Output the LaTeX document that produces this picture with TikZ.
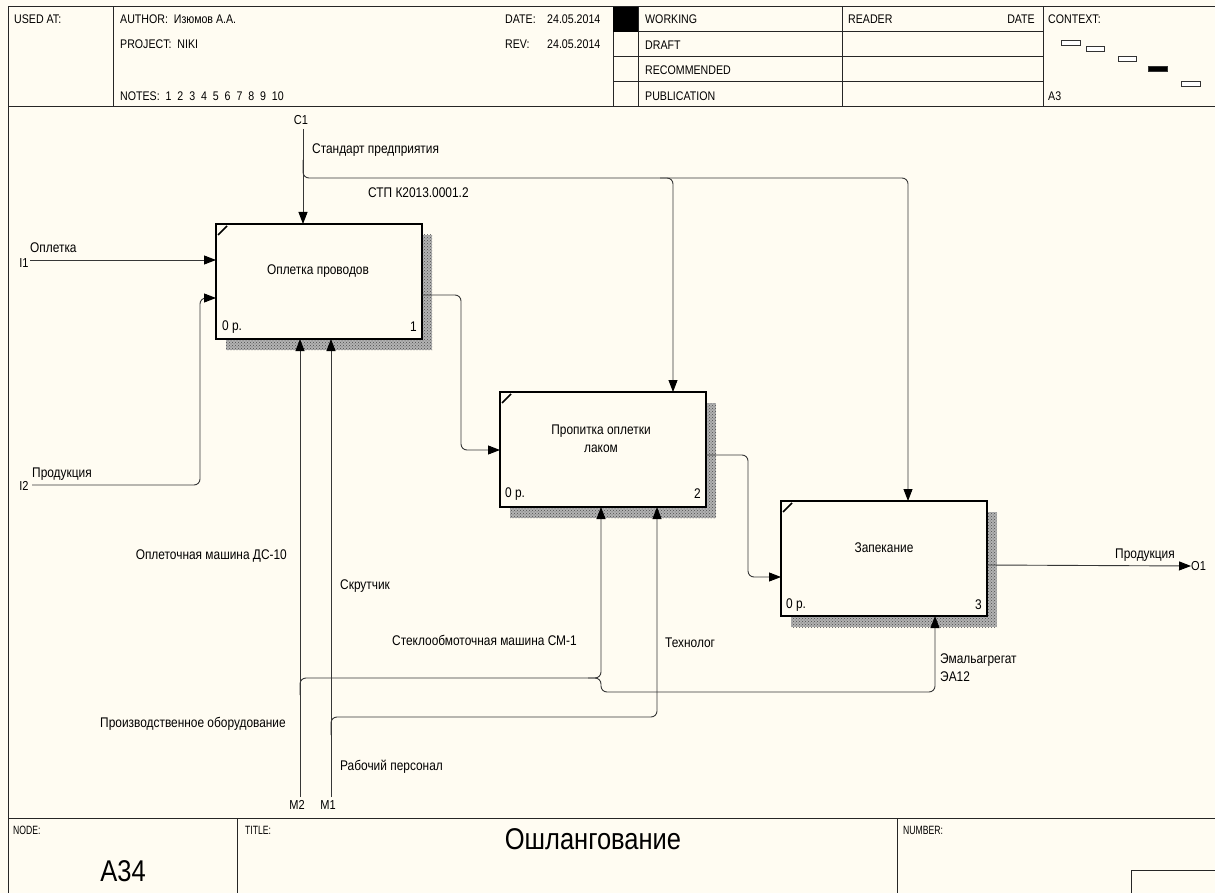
\documentclass[tikz,border=0pt]{standalone}
\usepackage{fontspec}
\setmainfont[FakeStretch=0.85]{Liberation Sans}
\newfontfamily\condfont[FakeStretch=0.72]{Liberation Sans}
\usetikzlibrary{arrows.meta,patterns,calc}
\definecolor{bg}{RGB}{255,252,242}
\definecolor{ln}{RGB}{55,55,55}
\begin{document}
\begin{tikzpicture}[x=1pt,y=-1pt,
  txt/.style={inner sep=0pt, font=\fontsize{14}{18}\selectfont, text=black},
  hdr/.style={inner sep=0pt, anchor=west, font=\fontsize{12.5}{14}\selectfont},
  ftr/.style={inner sep=0pt, anchor=west, font=\condfont\fontsize{12}{14}\selectfont},
  conn/.style={draw=ln, line width=0.9pt, rounded corners=6pt},
  arr/.style={conn, -{Triangle[length=12pt,width=9pt,color=black]}},
  abox/.style={draw=black, line width=2.6pt, fill=bg, minimum width=206pt, minimum height=115pt, inner sep=0pt, outer sep=0pt, anchor=north west},
  shadowfill/.style={fill=black!30, postaction={pattern=crosshatch dots, pattern color=black!70}},
  frame/.style={draw=black!85, line width=1pt},
  ctx/.style={draw=black!80, line width=0.8pt, fill=white}
]
\fill[bg] (0,0) rectangle (1215,893);
\useasboundingbox (0,0) rectangle (1215,893);

% ---------- header ----------
\draw[frame] (8,7) rectangle (1220,107);
\foreach \xx in {113,613,638,842,1043} \draw[frame] (\xx,7) -- (\xx,107);
\foreach \yy in {32,57,82} \draw[frame] (613,\yy) -- (1043,\yy);
\fill[black] (613,7) rectangle (638,32);

\node[hdr] (usedat) at (14,19) {USED AT:};
\node[hdr] (author) at (120,19) {AUTHOR:\ \ Изюмов А.А.};
\node[hdr] (project) at (120,44) {PROJECT:\ \ NIKI};
\node[hdr] (notes) at (120,96) {NOTES:\ \ 1\ \ 2\ \ 3\ \ 4\ \ 5\ \ 6\ \ 7\ \ 8\ \ 9\ \ 10};
\node[hdr] (date) at (505,19) {DATE:};
\node[hdr] (datev) at (547,19) {24.05.2014};
\node[hdr] (rev) at (505,44) {REV:};
\node[hdr] (revv) at (547,44) {24.05.2014};
\node[hdr] (working) at (645,19) {WORKING};
\node[hdr] (draft) at (645,45) {DRAFT};
\node[hdr] (recom) at (645,70) {RECOMMENDED};
\node[hdr] (publ) at (645,96) {PUBLICATION};
\node[hdr] (reader) at (848,19) {READER};
\node[hdr, anchor=east] (rdate) at (1035,19) {DATE};
\node[hdr] (context) at (1048,19) {CONTEXT:};
\node[hdr] (a3) at (1048,96) {A3};
\draw[ctx] (1061,40) rectangle (1080,45);
\draw[ctx] (1086,46) rectangle (1104,51);
\draw[ctx] (1118,56) rectangle (1136,61);
\draw[ctx, fill=black] (1148,66) rectangle (1167,71);
\draw[ctx] (1181,81) rectangle (1200,86);

% ---------- frame & footer ----------
\draw[frame] (8,107) -- (8,893);
\draw[frame] (8,818) -- (1220,818);
\draw[frame] (237,818) -- (237,893);
\draw[frame] (897,818) -- (897,893);
\draw[frame] (1131,895) -- (1131,870) -- (1220,870);
\node[ftr] (node) at (13,830) {NODE:};
\node[ftr] (title) at (245,830) {TITLE:};
\node[ftr] (number) at (903,830) {NUMBER:};
\node[inner sep=0pt, font=\fontsize{30}{32}\selectfont] (a34) at (123,871) {A34};
\node[inner sep=0pt, font=\fontsize{30}{32}\selectfont] (ttl) at (593,839) {Ошлангование};

% ---------- boxes ----------
\fill[shadowfill] (226,235) rectangle (432,350);
\fill[shadowfill] (510,403) rectangle (716,518);
\fill[shadowfill] (791,512) rectangle (997,627);
\node[abox] (b1) at (216,224) {};
\node[abox] (b2) at (500,392) {};
\node[abox] (b3) at (781,501) {};
\foreach \b in {b1,b2,b3}
  \draw[line width=1.6pt] ($(\b.north west)+(2,11)$) -- ($(\b.north west)+(11,2)$);

\node[txt] (b1t) at (318,271) {Оплетка проводов};
\node[txt, anchor=west] (b1c) at (222,327) {0 р.};
\node[txt, anchor=east] (b1n) at (417,327) {1};
\node[txt, align=center] (b2t) at (601,439) {Пропитка оплетки\\лаком};
\node[txt, anchor=west] (b2c) at (505,494) {0 р.};
\node[txt, anchor=east] (b2n) at (701,494) {2};
\node[txt] (b3t) at (884,548) {Запекание};
\node[txt, anchor=west] (b3c) at (786,605) {0 р.};
\node[txt, anchor=east] (b3n) at (982,605) {3};

% ---------- boundary labels ----------
\node[txt, font=\fontsize{13}{15}\selectfont] (c1) at (301,120) {C1};
\node[txt, font=\fontsize{13}{15}\selectfont] (i1) at (24,263) {I1};
\node[txt, font=\fontsize{13}{15}\selectfont] (i2) at (24,486) {I2};
\node[txt, font=\fontsize{13}{15}\selectfont] (m2) at (297,805) {M2};
\node[txt, font=\fontsize{13}{15}\selectfont] (m1) at (328,805) {M1};
\node[txt, font=\fontsize{13}{15}\selectfont, anchor=west] (o1) at (1191,566) {O1};

\coordinate (c1p) at (303,129);
\coordinate (i1p) at (30,260);
\coordinate (i2p) at (32,485);
\coordinate (m2p) at (300,797);
\coordinate (m1p) at (331,797);

% ---------- arrows ----------
% control
\draw[arr] (c1p) -- (c1p |- b1.north);
\draw[arr] (303,160) |- (908,178) -- (908,501);
\draw[arr] (660,178) -| (673,392);
% inputs
\draw[arr] (i1p) -- (i1p -| b1.west);
\draw[arr] (i2p) -| (200,298) -- (216,298);
% internal flows
\draw[arr] (422,295) -| (461,450) -- (500,450);
\draw[arr] (706,455) -| (748,577) -- (781,577);
\draw[arr] (987,565) -- (o1.west);
% mechanisms
\draw[arr] (m2p) -- (m2p |- b1.south);
\draw[arr] (m1p) -- (m1p |- b1.south);
\draw[arr] (300,695) |- (601,678) -- (601,507);
\draw[arr] (588,678) -| (601,692) -| (935,616);
\draw[arr] (331,735) |- (657,717) -- (657,507);

% ---------- arrow labels ----------
\node[txt, anchor=west] (l1) at (312,150) {Стандарт предприятия};
\node[txt, anchor=west] (l2) at (368,193) {СТП К2013.0001.2};
\node[txt, anchor=west] (l3) at (30,248) {Оплетка};
\node[txt, anchor=west] (l4) at (32,474) {Продукция};
\node[txt, anchor=east] (l5) at (287,556) {Оплеточная машина ДС-10};
\node[txt, anchor=west] (l6) at (340,586) {Скрутчик};
\node[txt, anchor=west] (l7) at (392,640) {Стеклообмоточная машина СМ-1};
\node[txt, anchor=west] (l8) at (665,643) {Технолог};
\node[txt, anchor=west] (l9) at (940,660) {Эмальагрегат};
\node[txt, anchor=west] (l10) at (940,677) {ЭА12};
\node[txt, anchor=east] (l11) at (286,724) {Производственное оборудование};
\node[txt, anchor=west] (l12) at (340,767) {Рабочий персонал};
\node[txt, anchor=west] (l13) at (1115,555) {Продукция};
\end{tikzpicture}
\end{document}
